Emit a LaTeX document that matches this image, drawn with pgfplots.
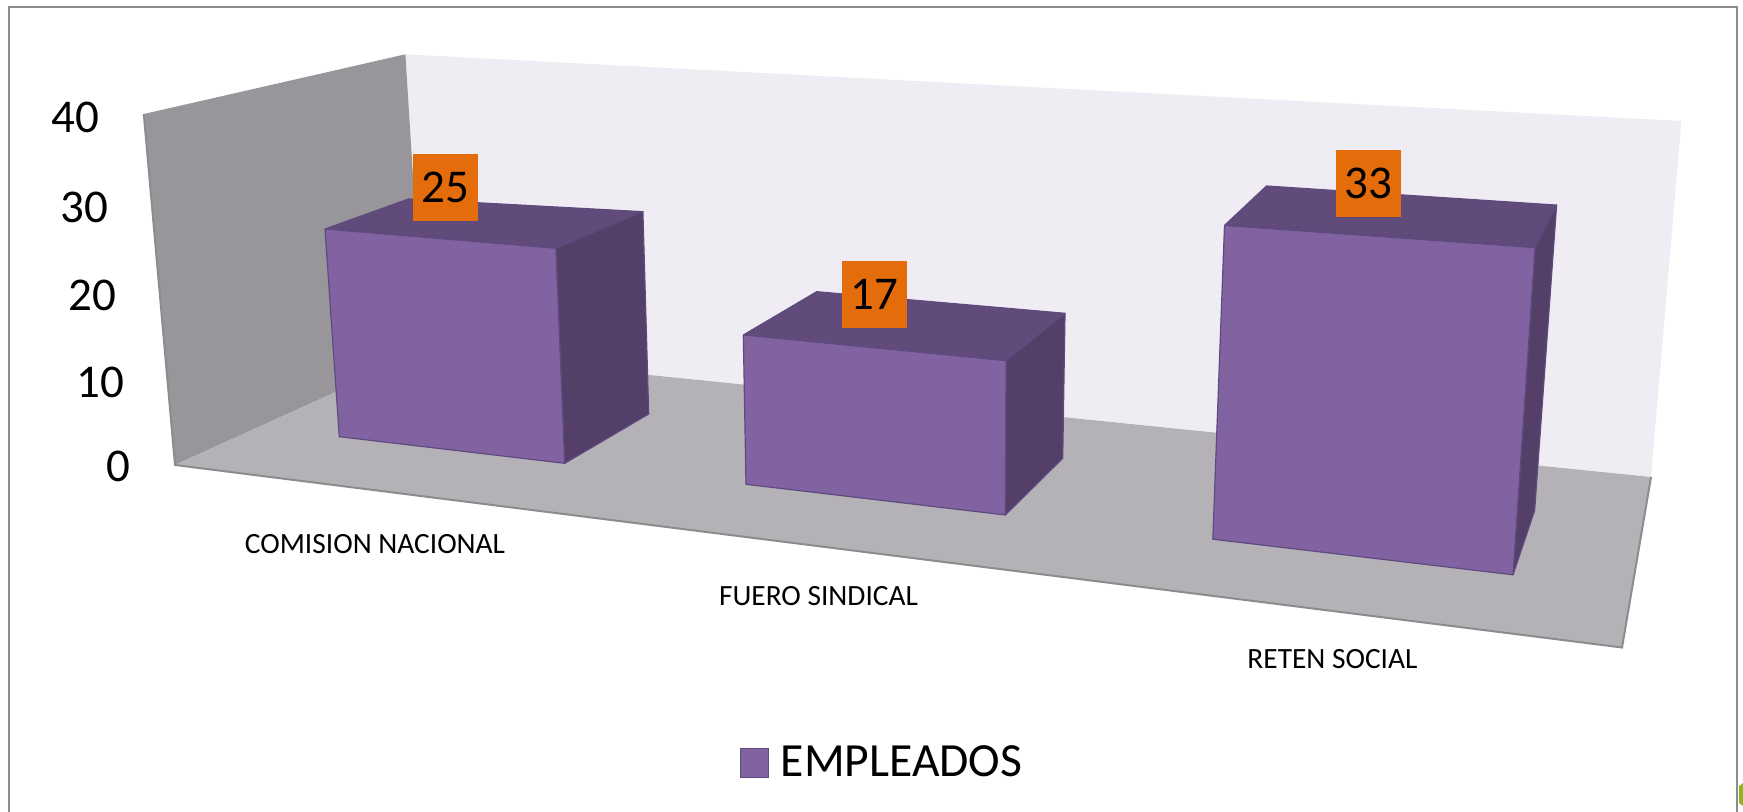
\documentclass[border=0pt]{standalone}
\usepackage{fontspec}
\setmainfont{Carlito}
\usepackage{pgfplots}
\pgfplotsset{compat=1.18}
\definecolor{wallL}{HTML}{98969B}
\definecolor{wallB}{HTML}{EFEDF3}
\definecolor{floorc}{HTML}{B4B2B7}
\definecolor{edgec}{HTML}{8C8C8C}
\definecolor{front}{HTML}{8263A2}
\definecolor{topc}{HTML}{604B7A}
\definecolor{side}{HTML}{533F68}
\definecolor{barline}{HTML}{5F4A80}
\definecolor{lab}{HTML}{E46C0A}
\definecolor{smudge}{HTML}{8DB51E}
\pgfplotsset{
  face/.style={fill=#1,draw=none,mark=none,forget plot},
  bar/.style={fill=#1,draw=barline,line width=0.6pt,line join=round,mark=none,forget plot},
  rule/.style={draw=edgec,line width=1pt,mark=none,forget plot},
}
\begin{document}
\begin{tikzpicture}
\useasboundingbox (0,0) rectangle (871.5pt,406pt);
\begin{axis}[scale only axis,width=871.5pt,height=406pt,xmin=0,xmax=1743,ymin=0,ymax=812,y dir=reverse,
  hide axis,clip=false,
  legend style={at={(axis cs:883,763)},anchor=center,draw=none,fill=none,font=\fontsize{23.8pt}{26pt}\selectfont,inner sep=0pt},
  legend image code/.code={\draw[#1] (0pt,-7.2pt) rectangle (14pt,7.2pt);},
]
% frame
\addplot[rule] coordinates {(9,812)(9,7)(1737,7)(1737,812)};
\addplot[face=smudge] coordinates {(1739,786)(1743,783)(1743,806)(1739,803)(1739,786)};
% walls and floor
\addplot[face=wallB] coordinates {(405.4,54.3)(1681.4,121)(1651,477)(424,352)(405.4,54.3)};
\addplot[face=wallL] coordinates {(143.8,114)(405.4,54.3)(424,352)(175,465)(143.8,114)};
\addplot[face=floorc] coordinates {(175,465)(424,352)(1651,477)(1622,647.5)(175,465)};
\addplot[rule] coordinates {(143.8,114)(175,465)(1622,647.5)(1651,477)};
% bar 1: 25
\addplot[bar=topc] coordinates {(325,229)(408.5,199)(642.9,211.7)(555.8,248.3)(325,229)};
\addplot[bar=side] coordinates {(555.8,248.3)(642.9,211.7)(648.7,414)(564.7,463.3)(555.8,248.3)};
\addplot[bar=front] coordinates {(325,229)(555.8,248.3)(564.7,463.3)(339.3,436.7)(325,229)};
% bar 2: 17
\addplot[bar=topc] coordinates {(743.3,335)(816.7,291.7)(1065,313.3)(1006,360.7)(743.3,335)};
\addplot[bar=side] coordinates {(1006,360.7)(1065,313.3)(1062.7,458.3)(1005.3,515)(1006,360.7)};
\addplot[bar=front] coordinates {(743.3,335)(1006,360.7)(1005.3,515)(746,484.3)(743.3,335)};
% bar 3: 33
\addplot[bar=topc] coordinates {(1224.5,225.4)(1266.5,186)(1556.6,205.1)(1535,247.6)(1224.5,225.4)};
\addplot[bar=side] coordinates {(1535,247.6)(1556.6,205.1)(1534.6,510.5)(1513,574.8)(1535,247.6)};
\addplot[bar=front] coordinates {(1224.5,225.4)(1535,247.6)(1513,574.8)(1212.8,539.2)(1224.5,225.4)};
% value labels
\addplot[draw=none,mark=none,forget plot,point meta=explicit symbolic,nodes near coords,
  every node near coord/.append style={anchor=center,fill=lab,text=black,inner sep=0pt,minimum width=32.5pt,minimum height=33.4pt,
    font=\fontsize{23.5pt}{26pt}\selectfont}]
  table[col sep=comma,meta=v] {
x,y,v
445.5,187.5,25
874.5,294.3,17
1368.5,183.3,33
};
% value axis labels
\addplot[draw=none,mark=none,forget plot,point meta=explicit symbolic,nodes near coords,
  every node near coord/.append style={anchor=center,text=black,inner sep=0pt,font=\fontsize{23.5pt}{26pt}\selectfont}]
  table[col sep=comma,meta=v] {
x,y,v
75.8,117,40
84,207,30
92,295,20
100.5,382,10
118,466,0
};
% categories
\addplot[draw=none,mark=none,forget plot,point meta=explicit symbolic,nodes near coords,
  every node near coord/.append style={anchor=center,text=black,inner sep=0pt,font=\fontsize{14.7pt}{17pt}\selectfont}]
  table[col sep=comma,meta=v] {
x,y,v
375,544,COMISION NACIONAL
818.5,596,FUERO SINDICAL
1332.5,659,RETEN SOCIAL
};
\addlegendimage{fill=front,draw=barline,line width=0.6pt}
\addlegendentry{\hspace*{4pt}EMPLEADOS}
\end{axis}
\end{tikzpicture}
\end{document}
